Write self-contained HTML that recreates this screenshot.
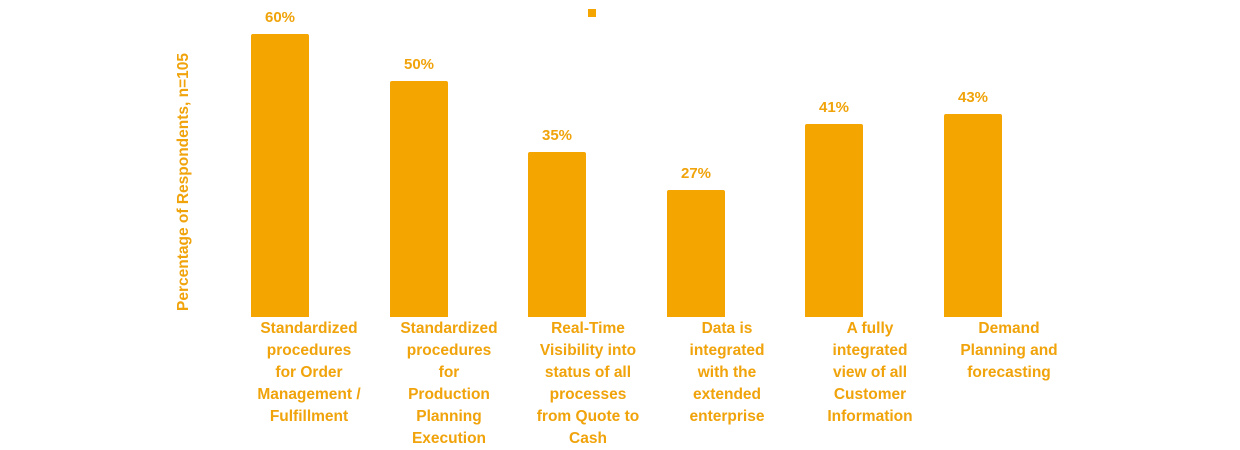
<!DOCTYPE html><html><head><style>
body{margin:0;background:#fff;width:1240px;height:450px;overflow:hidden;font-family:"Liberation Sans",sans-serif;font-weight:bold;color:#f0a30a}
.b{position:absolute;background:#f5a500;width:58px;border-radius:2px 2px 0 0}
.v{position:absolute;width:80px;text-align:center;font-size:15px}
.l{position:absolute;width:140px;text-align:center;font-size:15.5px;line-height:22px;top:318px}
</style></head><body>
<div style="position:absolute;left:588px;top:9px;width:8px;height:8px;background:#f5a500"></div>
<div style="position:absolute;left:184px;top:182px;transform:translate(-50%,-50%) rotate(-90deg);white-space:nowrap;font-size:15.5px">Percentage of Respondents, n=105</div>
<div class="b" style="left:251px;top:34px;height:283px"></div><div class="v" style="left:240px;top:9px">60%</div>
<div class="b" style="left:390px;top:81px;height:236px"></div><div class="v" style="left:379px;top:56px">50%</div>
<div class="b" style="left:528px;top:152px;height:165px"></div><div class="v" style="left:517px;top:127px">35%</div>
<div class="b" style="left:667px;top:190px;height:127px"></div><div class="v" style="left:656px;top:165px">27%</div>
<div class="b" style="left:805px;top:124px;height:193px"></div><div class="v" style="left:794px;top:99px">41%</div>
<div class="b" style="left:944px;top:114px;height:203px"></div><div class="v" style="left:933px;top:89px">43%</div>
<div class="l" style="left:239px">Standardized<br>procedures<br>for Order<br>Management /<br>Fulfillment</div>
<div class="l" style="left:379px">Standardized<br>procedures<br>for<br>Production<br>Planning<br>Execution</div>
<div class="l" style="left:518px">Real-Time<br>Visibility into<br>status of all<br>processes<br>from Quote to<br>Cash</div>
<div class="l" style="left:657px">Data is<br>integrated<br>with the<br>extended<br>enterprise</div>
<div class="l" style="left:800px">A fully<br>integrated<br>view of all<br>Customer<br>Information</div>
<div class="l" style="left:939px">Demand<br>Planning and<br>forecasting</div>
</body></html>
